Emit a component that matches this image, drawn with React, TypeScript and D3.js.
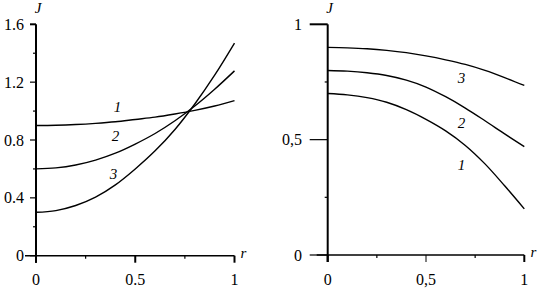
import React from "react";
import * as d3 from "d3";

// r values shared by every curve
const rValues = [0, 0.1, 0.2, 0.3, 0.4, 0.5, 0.6, 0.7, 0.8, 0.9, 1];

// left panel: J(r), curves 1..3
const leftCurve1 = [0.9, 0.902, 0.907, 0.915, 0.926, 0.942, 0.958, 0.98, 1.005, 1.035, 1.072];
const leftCurve2 = [0.6, 0.607, 0.627, 0.661, 0.709, 0.772, 0.845, 0.933, 1.035, 1.151, 1.278];
const leftCurve3 = [0.3, 0.312, 0.347, 0.405, 0.49, 0.6, 0.725, 0.873, 1.049, 1.248, 1.47];

// right panel: J(r), curves 1..3
const rightCurve1 = [0.7, 0.694, 0.682, 0.662, 0.63, 0.588, 0.538, 0.475, 0.395, 0.3, 0.2];
const rightCurve2 = [0.8, 0.797, 0.79, 0.778, 0.758, 0.728, 0.686, 0.637, 0.582, 0.525, 0.47];
const rightCurve3 = [0.9, 0.898, 0.894, 0.887, 0.877, 0.863, 0.846, 0.826, 0.8, 0.769, 0.735];

const curveNames = ["1", "2", "3"];

const leftYTicks = [0, 0.4, 0.8, 1.2, 1.6];
const leftYLabels = ["0", "0.4", "0.8", "1.2", "1.6"];
const leftYMinor = [0.2, 0.6, 1.0, 1.4];
const leftXLabels = ["0", "0.5", "1"];

const rightYTicks = [0, 0.5, 1];
const rightYLabels = ["0", "0,5", "1"];
const rightYMinor = [0.25, 0.75];
const rightXLabels = ["0", "0,5", "1"];

const xTicks = [0, 0.5, 1];
const xMinor = [0.25, 0.75];

const font = "'Liberation Serif', 'Times New Roman', 'DejaVu Serif', 'Noto Serif', serif";

type PanelProps = {
  xRange: [number, number];
  yRange: [number, number];
  yMax: number;
  curves: number[][];
  yTicks: number[];
  yLabels: string[];
  yMinor: number[];
  xLabels: string[];
  labelPos: [number, number][]; // [r, J] where the curve number sits
  majorLen: number;
  labelRight: number;
};

const txt = { fontFamily: font, fontSize: 16 };
const itxt = { fontFamily: font, fontSize: 15, fontStyle: "italic" as const };

const Panel = ({ xRange, yRange, yMax, curves, yTicks, yLabels, yMinor, xLabels, labelPos, majorLen, labelRight }: PanelProps) => {
  const x = d3.scaleLinear().domain([0, 1]).range(xRange);
  const y = d3.scaleLinear().domain([0, yMax]).range(yRange);
  const line = d3
    .line<number>()
    .x((_, i) => x(rValues[i]))
    .y((d) => y(d))
    .curve(d3.curveCatmullRom);

  const x0 = x(0);
  const y0 = y(0);

  return (
    <g>
      {/* axes */}
      <line x1={x0 - 11} x2={x(1)} y1={y0} y2={y0} stroke="#000" strokeWidth={1.6} />
      <line x1={x0} x2={x0} y1={y(yMax)} y2={y0 + 7} stroke="#000" strokeWidth={2} />
      {yTicks.map((t, i) => (
        <g key={"yt" + i}>
          <line x1={x0 - majorLen} x2={x0} y1={y(t)} y2={y(t)} stroke="#000" strokeWidth={t === yMax ? 2 : 1.2} />
          <text x={labelRight} y={y(t)} dy="0.35em" textAnchor="end" style={txt}>
            {yLabels[i]}
          </text>
        </g>
      ))}
      {yMinor.map((t, i) => (
        <line key={"ym" + i} x1={x0 - 3} x2={x0} y1={y(t)} y2={y(t)} stroke="#000" strokeWidth={1.2} />
      ))}
      {xTicks.map((t, i) => (
        <g key={"xt" + i}>
          <line x1={x(t)} x2={x(t)} y1={y0} y2={y0 + 7} stroke="#000" strokeWidth={t === 0.5 && majorLen > 8 ? 1 : 2} />
          <text x={x(t)} y={285} textAnchor="middle" style={txt}>
            {xLabels[i]}
          </text>
        </g>
      ))}
      {xMinor.map((t, i) => (
        <line key={"xm" + i} x1={x(t)} x2={x(t)} y1={y0} y2={y0 + 3} stroke="#000" strokeWidth={1.2} />
      ))}
      <text x={x0 + 2} y={13} textAnchor="middle" style={itxt}>
        J
      </text>
      <text x={x(1) + 9} y={y0 + 2} textAnchor="middle" style={itxt}>
        r
      </text>

      {/* curves */}
      {curves.map((c, i) => (
        <path key={"c" + i} d={line(c) || ""} fill="none" stroke="#000" strokeWidth={1.4} />
      ))}
      {labelPos.map((p, i) => (
        <text key={"l" + i} x={x(p[0])} y={y(p[1])} dy="0.35em" textAnchor="middle" style={itxt}>
          {curveNames[i]}
        </text>
      ))}
    </g>
  );
};

export default function App() {
  return (
    <svg width={542} height={289} style={{ position: "absolute", left: 0, top: 0, background: "#fff" }}>
      <Panel
        xRange={[36, 234.5]}
        yRange={[255.7, 24.3]}
        yMax={1.6}
        curves={[leftCurve1, leftCurve2, leftCurve3]}
        yTicks={leftYTicks}
        yLabels={leftYLabels}
        yMinor={leftYMinor}
        xLabels={leftXLabels}
        labelPos={[
          [0.41, 1.027],
          [0.4, 0.827],
          [0.39, 0.57],
        ]}
        majorLen={6}
        labelRight={24}
      />
      <Panel
        xRange={[327.7, 524.3]}
        yRange={[255, 24.3]}
        yMax={1}
        curves={[rightCurve1, rightCurve2, rightCurve3]}
        yTicks={rightYTicks}
        yLabels={rightYLabels}
        yMinor={rightYMinor}
        xLabels={rightXLabels}
        labelPos={[
          [0.68, 0.39],
          [0.68, 0.575],
          [0.68, 0.77],
        ]}
        majorLen={18}
        labelRight={302}
      />
    </svg>
  );
}
